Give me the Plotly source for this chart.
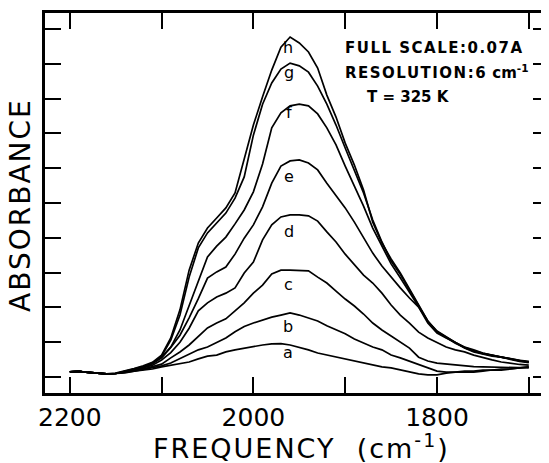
import plotly.graph_objects as go

# Frequency grid (cm^-1)
freq = [2200, 2190, 2180, 2170, 2160, 2150, 2140, 2130, 2120, 2110,
        2100, 2090, 2080, 2070, 2060, 2050, 2040, 2030, 2020, 2010,
        2000, 1990, 1980, 1970, 1960, 1950, 1940, 1930, 1920, 1910,
        1900, 1890, 1880, 1870, 1860, 1850, 1840, 1830, 1820, 1810,
        1800, 1790, 1780, 1770, 1760, 1750, 1740, 1730, 1720, 1710, 1700]

# Absorbance in units of the y tick spacing (full scale 0.07 A)
curve_h = [0.15, 0.17, 0.13, 0.10, 0.09, 0.11, 0.17, 0.24, 0.32, 0.42,
           0.63, 1.12, 1.93, 3.07, 3.85, 4.28, 4.57, 4.86, 5.29, 6.24,
           7.24, 8.05, 8.82, 9.48, 9.77, 9.60, 9.34, 8.88, 8.10, 7.47,
           6.72, 6.09, 5.37, 4.45, 3.85, 3.39, 2.99, 2.53, 2.07, 1.61,
           1.32, 1.15, 0.98, 0.83, 0.72, 0.66, 0.60, 0.57, 0.52, 0.46, 0.43]
curve_g = [0.15, 0.16, 0.13, 0.10, 0.09, 0.10, 0.16, 0.23, 0.30, 0.40,
           0.60, 1.06, 1.78, 2.87, 3.71, 4.14, 4.43, 4.71, 5.14, 5.75,
           6.95, 7.84, 8.45, 8.85, 9.02, 8.94, 8.76, 8.36, 7.84, 7.24,
           6.58, 5.95, 5.29, 4.51, 3.88, 3.33, 2.95, 2.50, 2.05, 1.60,
           1.30, 1.13, 0.97, 0.84, 0.74, 0.67, 0.62, 0.58, 0.53, 0.48, 0.45]
curve_f = [0.15, 0.16, 0.13, 0.10, 0.09, 0.10, 0.15, 0.22, 0.29, 0.40,
           0.57, 0.86, 1.35, 2.07, 2.79, 3.45, 3.76, 4.02, 4.40, 4.80,
           5.32, 6.12, 7.16, 7.59, 7.79, 7.84, 7.79, 7.56, 7.16, 6.67,
           6.06, 5.49, 4.91, 4.28, 3.76, 3.25, 2.85, 2.42, 2.00, 1.60,
           1.30, 1.14, 0.99, 0.85, 0.75, 0.68, 0.62, 0.57, 0.51, 0.45, 0.41]
curve_e = [0.15, 0.16, 0.13, 0.10, 0.09, 0.10, 0.14, 0.20, 0.27, 0.38,
           0.55, 0.85, 1.20, 1.70, 2.25, 2.84, 3.02, 3.16, 3.53, 3.99,
           4.37, 4.89, 5.57, 6.06, 6.21, 6.24, 6.15, 5.95, 5.57, 5.23,
           4.86, 4.45, 3.99, 3.56, 3.19, 2.87, 2.56, 2.27, 2.01, 1.55,
           1.26, 1.12, 0.98, 0.86, 0.78, 0.69, 0.63, 0.57, 0.52, 0.46, 0.43]
curve_d = [0.15, 0.16, 0.13, 0.10, 0.09, 0.10, 0.14, 0.19, 0.26, 0.34,
           0.49, 0.70, 1.00, 1.40, 1.90, 2.13, 2.30, 2.41, 2.56, 2.99,
           3.30, 3.94, 4.37, 4.60, 4.66, 4.66, 4.63, 4.48, 4.17, 3.88,
           3.53, 3.22, 2.93, 2.70, 2.41, 2.07, 1.78, 1.55, 1.29, 1.12,
           0.98, 0.86, 0.78, 0.72, 0.63, 0.55, 0.49, 0.43, 0.39, 0.36, 0.34]
curve_c = [0.15, 0.16, 0.13, 0.10, 0.09, 0.10, 0.13, 0.18, 0.23, 0.29,
           0.37, 0.55, 0.72, 0.92, 1.18, 1.41, 1.55, 1.67, 1.90, 2.13,
           2.41, 2.64, 2.96, 3.07, 3.07, 3.07, 3.05, 2.87, 2.70, 2.47,
           2.24, 2.04, 1.81, 1.55, 1.35, 1.18, 1.01, 0.83, 0.57, 0.46,
           0.40, 0.37, 0.34, 0.32, 0.30, 0.29, 0.28, 0.27, 0.27, 0.26, 0.26]
curve_b = [0.15, 0.16, 0.13, 0.10, 0.09, 0.10, 0.13, 0.17, 0.22, 0.26,
           0.32, 0.40, 0.52, 0.66, 0.78, 0.86, 1.00, 1.12, 1.30, 1.45,
           1.55, 1.64, 1.72, 1.78, 1.84, 1.78, 1.70, 1.61, 1.47, 1.35,
           1.24, 1.09, 0.98, 0.86, 0.78, 0.63, 0.55, 0.46, 0.37, 0.26,
           0.17, 0.14, 0.14, 0.17, 0.17, 0.20, 0.20, 0.23, 0.23, 0.26, 0.29]
curve_a = [0.15, 0.16, 0.13, 0.10, 0.09, 0.10, 0.12, 0.17, 0.20, 0.23,
           0.29, 0.34, 0.37, 0.43, 0.52, 0.60, 0.63, 0.72, 0.78, 0.83,
           0.86, 0.92, 0.95, 0.96, 0.92, 0.86, 0.78, 0.69, 0.63, 0.57,
           0.52, 0.46, 0.40, 0.34, 0.29, 0.26, 0.20, 0.14, 0.09, 0.06,
           0.06, 0.11, 0.14, 0.14, 0.14, 0.17, 0.20, 0.20, 0.23, 0.26, 0.29]

series = {"a": curve_a, "b": curve_b, "c": curve_c, "d": curve_d,
          "e": curve_e, "f": curve_f, "g": curve_g, "h": curve_h}

# Curve letter labels (position just under each peak)
label_names = ["h", "g", "f", "e", "d", "c", "b", "a"]
label_freq = [1962, 1961, 1961, 1961, 1961, 1962, 1962, 1962]
label_y = [9.48, 8.76, 7.61, 5.75, 4.17, 2.67, 1.44, 0.69]

x_tickvals = [2200, 2100, 2000, 1900, 1800, 1700]
x_ticktext = ["2200", "", "2000", "", "1800", ""]
y_tickvals = list(range(0, 11))

fig = go.Figure()
for name, vals in series.items():
    fig.add_trace(go.Scatter(x=freq, y=vals, mode="lines", name=name,
                             line=dict(color="black", width=1.7),
                             showlegend=False, hoverinfo="skip"))

for n, fx, fy in zip(label_names, label_freq, label_y):
    fig.add_annotation(x=fx, y=fy, text=n, showarrow=False,
                       xanchor="center", yanchor="middle",
                       font=dict(family="DejaVu Sans", size=16, color="black"))

FONT = "DejaVu Sans"
# the page body has an 8px margin, so the figure is sized/offset to compensate
fig.update_layout(
    width=541, height=455,
    margin=dict(l=37, r=0, t=5, b=70, autoexpand=False),
    paper_bgcolor="white", plot_bgcolor="white",
    xaxis=dict(range=[2227, 1678], tickvals=x_tickvals, ticktext=x_ticktext,
               ticks="inside", ticklen=16, tickwidth=2.2, tickcolor="black",
               showline=True, linecolor="black", linewidth=2.6, mirror="allticks",
               showgrid=False, zeroline=False, automargin=False,
               tickfont=dict(family=FONT, size=25, color="black")),
    yaxis=dict(range=[-0.46, 10.46], tickvals=y_tickvals,
               ticks="inside", ticklen=16, tickwidth=2.2, tickcolor="black",
               showline=True, linecolor="black", linewidth=2.6, mirror="allticks",
               showgrid=False, zeroline=False, showticklabels=False,
               automargin=False),
)

# Axis titles
fig.add_annotation(xref="paper", yref="paper", x=-0.0476, y=0.495,
                   xanchor="center", yanchor="middle",
                   text='<span style="letter-spacing:2px">ABSORBANCE</span>',
                   textangle=-90, showarrow=False,
                   font=dict(family=FONT, size=28, color="black"))
fig.add_annotation(xref="paper", yref="paper", x=0.508, y=-0.142,
                   xanchor="center", yanchor="middle",
                   text='<span style="letter-spacing:2px">FREQUENCY  (cm<sup>-1</sup>)</span>',
                   showarrow=False,
                   font=dict(family=FONT, size=27, color="black"))

# Info block
info_font = dict(family=FONT, size=15, color="black", weight="bold")
fig.add_annotation(xref="paper", yref="paper", x=0.591, y=0.908,
                   xanchor="left", yanchor="middle",
                   text='<span style="letter-spacing:1.5px">FULL SCALE:0.07A</span>',
                   showarrow=False, font=info_font)
fig.add_annotation(xref="paper", yref="paper", x=0.591, y=0.845,
                   xanchor="left", yanchor="middle",
                   text='<span style="letter-spacing:1.5px">RESOLUTION:6</span> cm<sup>-1</sup>',
                   showarrow=False, font=info_font)
fig.add_annotation(xref="paper", yref="paper", x=0.635, y=0.779,
                   xanchor="left", yanchor="middle",
                   text='T = 325 K',
                   showarrow=False, font=info_font)

fig.write_html("out.html")
